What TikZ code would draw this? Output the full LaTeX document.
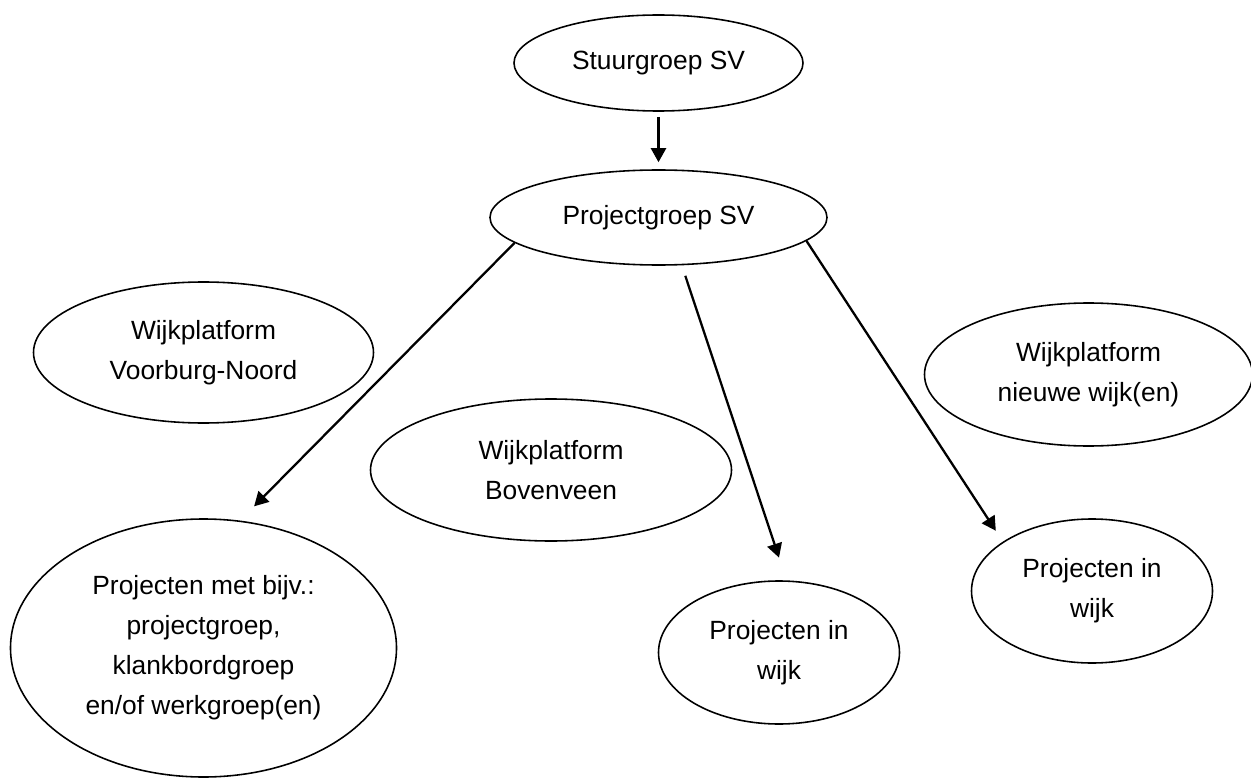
\documentclass[tikz,border=0pt]{standalone}
\usepackage{fontspec}
\setmainfont{Liberation Sans}
\usetikzlibrary{arrows.meta,positioning,shapes.geometric}

\tikzset{
  blob/.style={ellipse, draw, line width=0.9pt, inner sep=0pt, align=center,
    font=\fontsize{15}{22.8}\selectfont},
  link/.style={-{Triangle[length=2.8mm,width=3mm]}, line width=1.3pt}
}

\begin{document}
\begin{tikzpicture}[on grid]
    \useasboundingbox (0,0) rectangle (25.02,-15.56);
    \node[blob,minimum width=5.78cm,minimum height=1.92cm] (stuur) at (13.17,-1.26) {Stuurgroep SV};
    \node[blob,minimum width=6.74cm,minimum height=1.9cm]  (proj) [below=3.09cm of stuur] {Projectgroep SV};
    \node[blob,minimum width=6.8cm,minimum height=2.82cm]  (voorburg) [below left=2.7cm and 9.1cm of proj] {Wijkplatform\\Voorburg-Noord};
    \node[blob,minimum width=7.22cm,minimum height=2.84cm] (bovenveen) [below left=5.05cm and 2.15cm of proj] {Wijkplatform\\Bovenveen};
    \node[blob,minimum width=6.56cm,minimum height=2.86cm] (nieuw) [below right=3.14cm and 8.6cm of proj] {Wijkplatform\\nieuwe wijk(en)};
    \node[blob,minimum width=7.72cm,minimum height=5.16cm] (bijv) [below=5.91cm of voorburg] {Projecten met bijv.:\\projectgroep,\\klankbordgroep\\en/of werkgroep(en)};
    \node[blob,minimum width=4.82cm,minimum height=2.86cm] (wijk_m) [below right=3.65cm and 4.56cm of bovenveen] {Projecten in\\wijk};
    \node[blob,minimum width=4.82cm,minimum height=2.88cm] (wijk_r) [below right=4.33cm and 0.07cm of nieuw] {Projecten in\\wijk};
    \draw[link, shorten <=0.1cm, shorten >=0.14cm] (stuur.south) -- (proj.north);
    \draw[link, shorten >=0.4cm] (proj.190) -- (bijv.74.6);
    \draw[link, shorten <=0.22cm, shorten >=0.48cm] (proj.-64.3) -- (wijk_m.84.3);
    \draw[link, shorten >=0.26cm] (proj.-9.7) -- (wijk_r.151.8);
\end{tikzpicture}
\end{document}
